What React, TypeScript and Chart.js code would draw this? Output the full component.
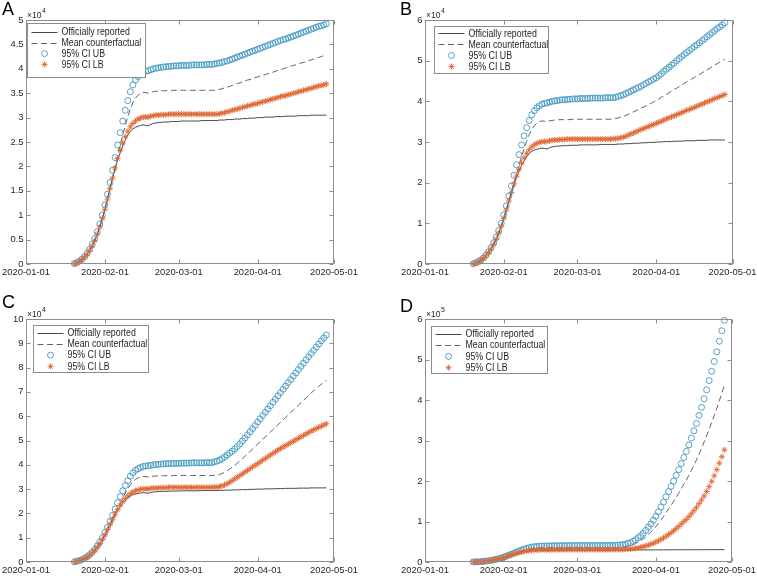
import React, { useEffect, useRef } from "react";
import { Chart, registerables } from "chart.js";

Chart.register(...registerables);

// ---------- categories ----------
const FIRST_DATE = "2020-01-20"; // daily points from this date
const X_TICKS = ["2020-01-01", "2020-02-01", "2020-03-01", "2020-04-01", "2020-05-01"];

// ---------- series values (units of 10^4 cases), days 2020-01-20 .. 2020-04-28 ----------
const OFFICIAL = [
  0.00, 0.02, 0.05, 0.09, 0.14, 0.20, 0.28, 0.37, 0.48, 0.61,
  0.76, 0.93, 1.12, 1.33, 1.55, 1.76, 1.96, 2.13, 2.28, 2.42,
  2.54, 2.64, 2.72, 2.77, 2.80, 2.82, 2.84, 2.85, 2.84, 2.83,
  2.86, 2.88, 2.89, 2.90, 2.90, 2.91, 2.91, 2.91, 2.92, 2.92,
  2.92, 2.92, 2.93, 2.93, 2.93, 2.93, 2.93, 2.93, 2.93, 2.93,
  2.94, 2.94, 2.94, 2.94, 2.94, 2.94, 2.94, 2.95, 2.95, 2.95,
  2.96, 2.96, 2.96, 2.97, 2.97, 2.97, 2.98, 2.98, 2.98, 2.99,
  2.99, 2.99, 3.00, 3.00, 3.00, 3.01, 3.01, 3.01, 3.01, 3.02,
  3.02, 3.02, 3.02, 3.03, 3.03, 3.03, 3.03, 3.03, 3.04, 3.04,
  3.04, 3.04, 3.04, 3.05, 3.05, 3.05, 3.05, 3.05, 3.05, 3.05,
];

// shared part of the counterfactual (2020-01-20 .. 2020-03-14)
const UB_EARLY = [
  0.01, 0.03, 0.06, 0.10, 0.15, 0.22, 0.30, 0.40, 0.52, 0.66,
  0.82, 1.00, 1.21, 1.43, 1.67, 1.92, 2.18, 2.44, 2.69, 2.93,
  3.15, 3.35, 3.53, 3.67, 3.77, 3.84, 3.89, 3.93, 3.95, 3.96,
  3.98, 4.00, 4.01, 4.02, 4.03, 4.04, 4.04, 4.05, 4.05, 4.06,
  4.06, 4.06, 4.07, 4.07, 4.07, 4.07, 4.08, 4.08, 4.08, 4.08,
  4.08, 4.08, 4.09, 4.09, 4.09,
];
const MEAN_EARLY = [
  0.00, 0.02, 0.05, 0.09, 0.14, 0.20, 0.28, 0.37, 0.48, 0.61,
  0.76, 0.93, 1.12, 1.33, 1.55, 1.77, 1.99, 2.21, 2.43, 2.64,
  2.84, 3.02, 3.18, 3.31, 3.40, 3.46, 3.50, 3.52, 3.51, 3.50,
  3.52, 3.53, 3.54, 3.54, 3.55, 3.55, 3.55, 3.55, 3.55, 3.56,
  3.56, 3.56, 3.56, 3.56, 3.56, 3.56, 3.56, 3.56, 3.56, 3.56,
  3.56, 3.56, 3.56, 3.56, 3.56,
];
const LB_EARLY = [
  0.00, 0.02, 0.05, 0.09, 0.14, 0.20, 0.28, 0.37, 0.48, 0.61,
  0.76, 0.93, 1.12, 1.33, 1.55, 1.76, 1.97, 2.16, 2.33, 2.48,
  2.61, 2.72, 2.81, 2.88, 2.93, 2.97, 2.99, 3.01, 3.01, 3.01,
  3.03, 3.04, 3.05, 3.05, 3.06, 3.06, 3.06, 3.07, 3.07, 3.07,
  3.07, 3.07, 3.07, 3.07, 3.07, 3.07, 3.07, 3.07, 3.07, 3.07,
  3.07, 3.07, 3.07, 3.07, 3.07,
];

// scenario parts (2020-03-15 .. 2020-04-28)
const UB_A_LATE = [
  4.10, 4.11, 4.12, 4.13, 4.15, 4.16, 4.18, 4.20, 4.22, 4.24,
  4.26, 4.28, 4.30, 4.32, 4.34, 4.36, 4.38, 4.40, 4.42, 4.44,
  4.46, 4.48, 4.50, 4.52, 4.54, 4.56, 4.58, 4.60, 4.61, 4.63,
  4.65, 4.67, 4.69, 4.71, 4.73, 4.75, 4.77, 4.79, 4.81, 4.83,
  4.85, 4.87, 4.88, 4.90, 4.92,
];
const MEAN_A_LATE = [
  3.56, 3.57, 3.58, 3.59, 3.61, 3.62, 3.64, 3.66, 3.68, 3.70,
  3.71, 3.73, 3.75, 3.77, 3.78, 3.80, 3.82, 3.83, 3.85, 3.87,
  3.88, 3.90, 3.92, 3.93, 3.95, 3.97, 3.98, 4.00, 4.02, 4.03,
  4.05, 4.07, 4.08, 4.10, 4.12, 4.13, 4.15, 4.17, 4.18, 4.20,
  4.22, 4.23, 4.25, 4.27, 4.28,
];
const LB_A_LATE = [
  3.07, 3.07, 3.08, 3.09, 3.10, 3.12, 3.13, 3.15, 3.16, 3.18,
  3.19, 3.21, 3.22, 3.24, 3.25, 3.27, 3.28, 3.29, 3.31, 3.32,
  3.34, 3.35, 3.37, 3.38, 3.40, 3.41, 3.43, 3.44, 3.45, 3.47,
  3.48, 3.50, 3.51, 3.53, 3.54, 3.56, 3.57, 3.59, 3.60, 3.62,
  3.63, 3.65, 3.66, 3.67, 3.69,
];

const UB_B_LATE = [
  4.09, 4.10, 4.12, 4.14, 4.16, 4.19, 4.22, 4.25, 4.28, 4.31,
  4.34, 4.37, 4.41, 4.44, 4.48, 4.51, 4.55, 4.58, 4.63, 4.68,
  4.74, 4.79, 4.84, 4.89, 4.94, 5.00, 5.05, 5.10, 5.15, 5.20,
  5.25, 5.30, 5.35, 5.39, 5.44, 5.49, 5.54, 5.59, 5.64, 5.69,
  5.74, 5.79, 5.83, 5.88, 5.93,
];
const MEAN_B_LATE = [
  3.57, 3.58, 3.59, 3.61, 3.63, 3.65, 3.68, 3.71, 3.74, 3.77,
  3.80, 3.83, 3.86, 3.89, 3.92, 3.95, 3.99, 4.02, 4.06, 4.10,
  4.13, 4.17, 4.21, 4.25, 4.29, 4.32, 4.36, 4.40, 4.44, 4.48,
  4.51, 4.55, 4.59, 4.63, 4.66, 4.70, 4.74, 4.78, 4.81, 4.85,
  4.89, 4.93, 4.96, 5.00, 5.04,
];
const LB_B_LATE = [
  3.08, 3.08, 3.09, 3.10, 3.12, 3.14, 3.17, 3.20, 3.22, 3.25,
  3.28, 3.31, 3.33, 3.36, 3.38, 3.41, 3.43, 3.46, 3.49, 3.51,
  3.54, 3.57, 3.59, 3.62, 3.64, 3.67, 3.70, 3.72, 3.75, 3.78,
  3.80, 3.83, 3.85, 3.88, 3.91, 3.93, 3.96, 3.99, 4.01, 4.04,
  4.07, 4.09, 4.12, 4.14, 4.17,
];

const UB_C_LATE = [
  4.12, 4.15, 4.19, 4.25, 4.32, 4.40, 4.48, 4.56, 4.65, 4.75,
  4.86, 4.98, 5.10, 5.23, 5.36, 5.49, 5.62, 5.76, 5.89, 6.03,
  6.16, 6.30, 6.43, 6.57, 6.70, 6.84, 6.97, 7.11, 7.24, 7.38,
  7.51, 7.65, 7.78, 7.92, 8.05, 8.18, 8.32, 8.45, 8.58, 8.71,
  8.84, 8.97, 9.10, 9.22, 9.34,
];
const MEAN_C_LATE = [
  3.57, 3.58, 3.60, 3.64, 3.69, 3.75, 3.82, 3.90, 3.98, 4.07,
  4.16, 4.25, 4.35, 4.45, 4.55, 4.65, 4.75, 4.85, 4.95, 5.05,
  5.15, 5.25, 5.35, 5.45, 5.55, 5.65, 5.75, 5.85, 5.95, 6.05,
  6.15, 6.25, 6.35, 6.45, 6.55, 6.65, 6.75, 6.85, 6.95, 7.05,
  7.14, 7.23, 7.32, 7.40, 7.48,
];
const LB_C_LATE = [
  3.08, 3.09, 3.10, 3.13, 3.17, 3.22, 3.28, 3.35, 3.42, 3.49,
  3.56, 3.63, 3.70, 3.77, 3.84, 3.91, 3.98, 4.05, 4.12, 4.19,
  4.26, 4.33, 4.40, 4.47, 4.54, 4.61, 4.67, 4.73, 4.79, 4.85,
  4.91, 4.97, 5.03, 5.09, 5.15, 5.21, 5.27, 5.33, 5.39, 5.44,
  5.49, 5.54, 5.59, 5.64, 5.69,
];

const UB_D_LATE = [
  4.10, 4.12, 4.15, 4.20, 4.30, 4.40, 4.60, 4.80, 5.10, 5.50,
  6.00, 6.50, 7.10, 7.80, 8.60, 9.40, 10.3, 11.3, 12.4, 13.6,
  14.8, 16.1, 17.4, 18.7, 20.0, 21.4, 22.8, 24.3, 25.8, 27.3,
  28.9, 30.6, 32.4, 34.2, 36.2, 38.2, 40.3, 42.5, 44.8, 47.1,
  49.5, 51.9, 54.5, 57.1, 59.7,
];
const MEAN_D_LATE = [
  3.56, 3.57, 3.58, 3.62, 3.69, 3.76, 3.90, 4.05, 4.26, 4.55,
  4.91, 5.27, 5.70, 6.20, 6.78, 7.35, 8.00, 8.72, 9.51, 10.4,
  11.2, 12.2, 13.1, 14.0, 15.0, 16.0, 17.0, 18.1, 19.2, 20.2,
  21.4, 22.6, 23.9, 25.2, 26.6, 28.1, 29.6, 31.2, 32.8, 34.5,
  36.2, 37.9, 39.8, 41.7, 43.6,
];
const LB_D_LATE = [
  3.07, 3.07, 3.08, 3.09, 3.11, 3.14, 3.18, 3.23, 3.30, 3.39,
  3.50, 3.63, 3.78, 3.96, 4.16, 4.39, 4.64, 4.92, 5.23, 5.57,
  5.94, 6.34, 6.77, 7.23, 7.72, 8.24, 8.79, 9.37, 9.98, 10.5,
  11.2, 11.9, 12.7, 13.5, 14.4, 15.3, 16.3, 17.4, 18.6, 19.9,
  21.3, 22.8, 24.4, 26.0, 27.7,
];

// ---------- tick labels ----------
const Y_TICKS_A = [0, 0.5, 1, 1.5, 2, 2.5, 3, 3.5, 4, 4.5, 5];
const Y_TICKS_B = [0, 1, 2, 3, 4, 5, 6];
const Y_TICKS_C = [0, 1, 2, 3, 4, 5, 6, 7, 8, 9, 10];
const Y_TICKS_D = [0, 10, 20, 30, 40, 50, 60]; // in 10^4, shown as 10^5
const LEGEND_LABELS = ["Officially reported", "Mean counterfactual", "95% CI UB", "95% CI LB"];

// ---------- styling ----------
const FONT = "'Liberation Sans', Arial, Helvetica, sans-serif";
const TEXT = "#262626";
const BOX = "#8c8c8c";
const C_OFF = "#333333";
const C_MEAN = "#505050";
const C_UB = "#4398c2";
const C_LB = "#df6530";
const DASH = [6, 3.5];

function dayOf(s: string): number {
  const [y, m, d] = s.split("-").map(Number);
  return (Date.UTC(y, m - 1, d) - Date.UTC(2020, 0, 1)) / 86400000;
}
const X_TICK_DAYS = X_TICKS.map(dayOf);
const FIRST_DAY = dayOf(FIRST_DATE);

type Panel = {
  letter: string;
  left: number; top: number; w: number; h: number;
  area: { l: number; t: number; r: number; b: number };
  yTicks: number[];
  yDiv: number;
  exp: string;
  mean: number[]; ub: number[]; lb: number[];
  legend: { x: number; y: number; w: number; h: number; r0: number; gap: number };
  letterPos: { x: number; y: number };
};

const PANELS: Panel[] = [
  {
    letter: "A", left: 0, top: 0, w: 378, h: 290,
    area: { l: 26, t: 20, r: 334, b: 264 },
    yTicks: Y_TICKS_A, yDiv: 1, exp: "4",
    mean: [...MEAN_EARLY, ...MEAN_A_LATE], ub: [...UB_EARLY, ...UB_A_LATE], lb: [...LB_EARLY, ...LB_A_LATE],
    legend: { x: 1, y: 3, w: 118, h: 54, r0: 8.5, gap: 10.8 },
    letterPos: { x: 2, y: 15 },
  },
  {
    letter: "B", left: 378, top: 0, w: 379, h: 290,
    area: { l: 47, t: 20, r: 354.5, b: 264 },
    yTicks: Y_TICKS_B, yDiv: 1, exp: "4",
    mean: [...MEAN_EARLY, ...MEAN_B_LATE], ub: [...UB_EARLY, ...UB_B_LATE], lb: [...LB_EARLY, ...LB_B_LATE],
    legend: { x: 9, y: 6, w: 114, h: 47, r0: 6.8, gap: 11.1 },
    letterPos: { x: 22, y: 15 },
  },
  {
    letter: "C", left: 0, top: 290, w: 378, h: 289,
    area: { l: 26, t: 29, r: 334, b: 272 },
    yTicks: Y_TICKS_C, yDiv: 1, exp: "4",
    mean: [...MEAN_EARLY, ...MEAN_C_LATE], ub: [...UB_EARLY, ...UB_C_LATE], lb: [...LB_EARLY, ...LB_C_LATE],
    legend: { x: 7, y: 6, w: 115, h: 47, r0: 7.3, gap: 11.2 },
    letterPos: { x: 2, y: 18 },
  },
  {
    letter: "D", left: 378, top: 290, w: 379, h: 289,
    area: { l: 47, t: 29, r: 354, b: 272 },
    yTicks: Y_TICKS_D, yDiv: 10, exp: "5",
    mean: [...MEAN_EARLY, ...MEAN_D_LATE], ub: [...UB_EARLY, ...UB_D_LATE], lb: [...LB_EARLY, ...LB_D_LATE],
    legend: { x: 6, y: 7, w: 116, h: 47, r0: 7.3, gap: 11.3 },
    letterPos: { x: 22, y: 22 },
  },
];

function pts(arr: number[]) {
  return arr.map((v, i) => ({ x: FIRST_DAY + i, y: v }));
}

function drawStar(ctx: CanvasRenderingContext2D, x: number, y: number, r: number) {
  const d = r * Math.SQRT1_2;
  ctx.beginPath();
  ctx.moveTo(x - r, y); ctx.lineTo(x + r, y);
  ctx.moveTo(x, y - r); ctx.lineTo(x, y + r);
  ctx.moveTo(x - d, y - d); ctx.lineTo(x + d, y + d);
  ctx.moveTo(x - d, y + d); ctx.lineTo(x + d, y - d);
  ctx.stroke();
}

function makePlugin(p: Panel) {
  return {
    id: "matlabFrame" + p.letter,
    afterDraw(chart: any) {
      const { ctx, chartArea: a, scales } = chart;
      const xs = scales.x;
      const ys = scales.y;
      ctx.save();
      const L = Math.round(a.left) + 0.5;
      const R = Math.round(a.right) - 0.5;
      const T = Math.round(a.top) + 0.5;
      const B = Math.round(a.bottom) - 0.5;
      ctx.strokeStyle = BOX;
      ctx.lineWidth = 1;
      ctx.setLineDash([]);
      ctx.strokeRect(L, T, R - L, B - T);
      const TL = 4;
      ctx.beginPath();
      for (const v of X_TICK_DAYS) {
        const x = Math.round(xs.getPixelForValue(v)) + 0.5;
        ctx.moveTo(x, B); ctx.lineTo(x, B - TL);
        ctx.moveTo(x, T); ctx.lineTo(x, T + TL);
      }
      for (const v of p.yTicks) {
        const y = Math.round(ys.getPixelForValue(v)) + 0.5;
        ctx.moveTo(L, y); ctx.lineTo(L + TL, y);
        ctx.moveTo(R, y); ctx.lineTo(R - TL, y);
      }
      ctx.stroke();

      // exponent label
      ctx.fillStyle = TEXT;
      ctx.textBaseline = "alphabetic";
      ctx.textAlign = "left";
      ctx.font = `8.5px ${FONT}`;
      const ex = a.left + 1;
      const ey = a.top - 2.5;
      ctx.fillText("\u00d710", ex, ey);
      const wx = ctx.measureText("\u00d710").width;
      ctx.font = `7px ${FONT}`;
      ctx.fillText(p.exp, ex + wx + 0.5, ey - 4.5);

      // legend
      const lg = p.legend;
      const bx = Math.round(a.left + lg.x) + 0.5;
      const by = Math.round(a.top + lg.y) + 0.5;
      ctx.fillStyle = "#ffffff";
      ctx.fillRect(bx, by, lg.w, lg.h);
      ctx.strokeStyle = BOX;
      ctx.lineWidth = 1;
      ctx.strokeRect(bx, by, Math.round(lg.w), Math.round(lg.h));
      LEGEND_LABELS.forEach((label, i) => {
        const y = by + lg.r0 + i * lg.gap;
        if (i === 0 || i === 1) {
          ctx.strokeStyle = i === 0 ? C_OFF : C_MEAN;
          ctx.lineWidth = 0.9;
          ctx.setLineDash(i === 1 ? DASH : []);
          ctx.beginPath();
          ctx.moveTo(bx + 4, Math.round(y) + 0.5);
          ctx.lineTo(bx + 30, Math.round(y) + 0.5);
          ctx.stroke();
          ctx.setLineDash([]);
        } else if (i === 2) {
          ctx.strokeStyle = C_UB;
          ctx.lineWidth = 0.9;
          ctx.beginPath();
          ctx.arc(bx + 17, y, 3, 0, Math.PI * 2);
          ctx.stroke();
        } else {
          ctx.strokeStyle = C_LB;
          ctx.lineWidth = 0.9;
          drawStar(ctx, bx + 17, y, 3);
        }
        ctx.save();
        ctx.translate(bx + 34, y);
        ctx.scale(0.88, 1);
        ctx.fillStyle = TEXT;
        ctx.font = `10px ${FONT}`;
        ctx.textBaseline = "middle";
        ctx.fillText(label, 0, 0.5);
        ctx.restore();
      });

      // panel letter
      ctx.fillStyle = "#000000";
      ctx.font = `18px ${FONT}`;
      ctx.textBaseline = "alphabetic";
      ctx.fillText(p.letter, p.letterPos.x, p.letterPos.y);
      ctx.restore();
    },
  };
}

function PanelChart({ p }: { p: Panel }) {
  const ref = useRef<HTMLCanvasElement>(null);
  useEffect(() => {
    const canvas = ref.current;
    if (!canvas) return;
    const tickFont = { family: FONT, size: 9.4 };
    const chart = new Chart(canvas, {
      type: "line",
      data: {
        datasets: [
          {
            label: LEGEND_LABELS[0], data: pts(OFFICIAL), borderColor: C_OFF, borderWidth: 0.9,
            pointRadius: 0, fill: false, tension: 0, order: 3,
          },
          {
            label: LEGEND_LABELS[1], data: pts(p.mean), borderColor: C_MEAN, borderWidth: 0.9,
            borderDash: DASH, pointRadius: 0, fill: false, tension: 0, order: 2,
          },
          {
            label: LEGEND_LABELS[2], data: pts(p.ub), showLine: false, pointStyle: "circle",
            pointRadius: 3, pointBorderWidth: 0.9, pointBorderColor: C_UB,
            pointBackgroundColor: "rgba(0,0,0,0)", borderColor: C_UB, order: 1, clip: false,
          },
          {
            label: LEGEND_LABELS[3], data: pts(p.lb), showLine: false, pointStyle: "star",
            pointRadius: 3, pointBorderWidth: 0.9, pointBorderColor: C_LB,
            pointBackgroundColor: C_LB, borderColor: C_LB, order: 0, clip: false,
          },
        ] as any,
      },
      options: {
        animation: false,
        responsive: false,
        maintainAspectRatio: false,
        devicePixelRatio: 1,
        events: [],
        layout: {
          autoPadding: false,
          padding: { left: 0, top: p.area.t, right: p.w - p.area.r, bottom: 0 },
        },
        plugins: { legend: { display: false }, tooltip: { enabled: false } },
        scales: {
          x: {
            type: "linear",
            min: X_TICK_DAYS[0],
            max: X_TICK_DAYS[X_TICK_DAYS.length - 1],
            grid: { display: false, drawTicks: false },
            border: { display: false },
            afterBuildTicks: (s: any) => {
              s.ticks = X_TICK_DAYS.map((v) => ({ value: v }));
            },
            afterFit: (s: any) => {
              s.height = p.h - p.area.b;
              s.paddingLeft = 0;
              s.paddingRight = 0;
            },
            ticks: {
              autoSkip: false,
              maxRotation: 0,
              padding: 3,
              color: TEXT,
              font: tickFont,
              callback: (v: any) => {
                const i = X_TICK_DAYS.indexOf(Number(v));
                return i >= 0 ? X_TICKS[i] : "";
              },
            },
          },
          y: {
            type: "linear",
            min: p.yTicks[0],
            max: p.yTicks[p.yTicks.length - 1],
            grid: { display: false, drawTicks: false },
            border: { display: false },
            afterBuildTicks: (s: any) => {
              s.ticks = p.yTicks.map((v) => ({ value: v }));
            },
            afterFit: (s: any) => {
              s.width = p.area.l;
              s.paddingTop = 0;
              s.paddingBottom = 0;
            },
            ticks: {
              autoSkip: false,
              padding: 2.5,
              color: TEXT,
              font: tickFont,
              callback: (v: any) => String(Math.round((Number(v) / p.yDiv) * 100) / 100),
            },
          },
        },
      } as any,
      plugins: [makePlugin(p)],
    });
    return () => chart.destroy();
  }, [p]);
  return (
    <canvas
      ref={ref}
      width={p.w}
      height={p.h}
      style={{ position: "absolute", left: p.left, top: p.top, width: p.w, height: p.h }}
    />
  );
}

export default function App() {
  return (
    <div style={{ position: "absolute", left: 0, top: 0, width: 757, height: 579, background: "#ffffff", overflow: "hidden" }}>
      {PANELS.map((p) => (
        <PanelChart key={p.letter} p={p} />
      ))}
    </div>
  );
}
